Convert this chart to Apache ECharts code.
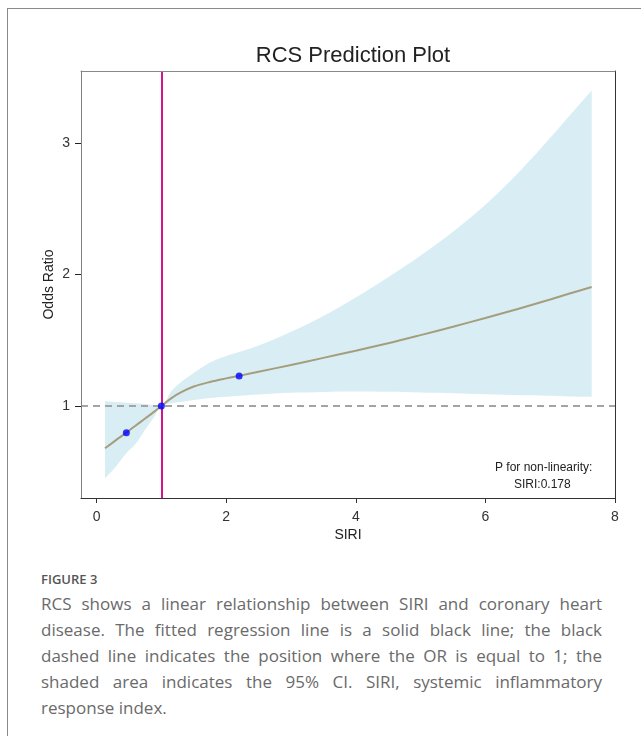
<!DOCTYPE html>
<html>
<head>
	<meta charset="utf-8" />
	<title>RCS Prediction Plot</title>
	<script type="text/javascript" src="https://cdn.jsdelivr.net/npm/echarts@6/dist/echarts.min.js"></script>
	<style type="text/css">
		html, body{
			margin: 0;
			padding: 0;
			width: 641px;
			height: 736px;
			overflow: hidden;
			background: #fff;
		}
		#frame{
			position: absolute;
			left: 7px;
			top: 8px;
			width: 700px;
			height: 800px;
			border: 1px solid #8a8a8a;
		}
		#container{
			position: absolute;
			left: 0;
			top: 0;
			width: 641px;
			height: 560px;
		}
		#caption{
			position: absolute;
			left: 41px;
			top: 570px;
			width: 561px;
			font-family: "Open Sans", sans-serif;
			color: #6a6a6a;
		}
		#caption .fig{
			font-size: 13px;
			font-weight: 600;
			color: #555;
			line-height: 18px;
			margin-bottom: 3px;
		}
		#caption .ln{
			font-size: 17px;
			line-height: 26px;
			text-align: justify;
			text-align-last: justify;
			white-space: nowrap;
		}
		#caption .ln.last{
			text-align-last: left;
		}
	</style>
</head>
<body>
<div id="frame"></div>
<div id="container"></div>
<div id="caption">
	<div class="fig">FIGURE 3</div>
	<div class="ln">RCS shows a linear relationship between SIRI and coronary heart</div>
	<div class="ln">disease. The fitted regression line is a solid black line; the black</div>
	<div class="ln">dashed line indicates the position where the OR is equal to 1; the</div>
	<div class="ln">shaded area indicates the 95% CI. SIRI, systemic inflammatory</div>
	<div class="ln last">response index.</div>
</div>

<script type="text/javascript">
	// SIRI values along the fitted curve
	var siri  = [0.13, 0.3, 0.46, 0.6, 0.75, 0.88, 1.0, 1.15, 1.3, 1.5, 1.75, 2.0, 2.2, 2.5, 3.0, 3.5, 4.0, 4.5, 5.0, 5.5, 6.0, 6.5, 7.0, 7.3, 7.64];
	// odds ratio (fitted line)
	var orFit = [0.678, 0.74, 0.797, 0.85, 0.905, 0.953, 1.0, 1.058, 1.103, 1.148, 1.183, 1.21, 1.229, 1.26, 1.312, 1.366, 1.42, 1.477, 1.539, 1.603, 1.669, 1.738, 1.81, 1.855, 1.905];
	// 95% CI
	var ciLow = [0.45, 0.54, 0.64, 0.71, 0.82, 0.91, 1.0, 1.02, 1.03, 1.045, 1.06, 1.07, 1.078, 1.088, 1.10, 1.107, 1.11, 1.108, 1.103, 1.097, 1.09, 1.083, 1.077, 1.073, 1.07];
	var ciUp  = [1.038, 1.03, 1.025, 1.02, 1.015, 1.008, 1.0, 1.11, 1.18, 1.25, 1.33, 1.38, 1.41, 1.46, 1.565, 1.685, 1.825, 1.98, 2.145, 2.325, 2.53, 2.77, 3.04, 3.21, 3.40];
	// highlighted points (blue)
	var knots = [[0.46, 0.797], [1.0, 1.0], [2.2, 1.228]];

	var xTicks = [0, 2, 4, 6, 8];
	var yTicks = [1, 2, 3];
	var refX = 1;    // vertical reference
	var refY = 1;    // OR = 1

	// rows are [value, siri] so the value column is the one that gets stacked
	var lowRows = [], bandRows = [], fitRows = [];
	for (var i = 0; i < siri.length; i++) {
		lowRows.push([ciLow[i], siri[i]]);
		bandRows.push([+(ciUp[i] - ciLow[i]).toFixed(4), siri[i]]);
		fitRows.push([orFit[i], siri[i]]);
	}

	var FONT = '"Liberation Sans", Arial, sans-serif';
	var SMOOTH = 0.35;

	var chart = echarts.init(document.getElementById('container'));

	var options = {
		animation: false,
		title: {
			text: 'RCS Prediction Plot',
			left: 348,
			textAlign: 'center',
			top: 40,
			textStyle: {
				fontFamily: FONT,
				fontSize: 22,
				fontWeight: 'normal',
				color: '#222'
			}
		},
		grid: {
			left: 81,
			top: 71,
			right: 26,
			bottom: 62
		},
		xAxis: [
			{
				type: 'value',
				min: -0.24,
				max: 8.0,
				z: 20,
				name: 'SIRI',
				nameLocation: 'middle',
				nameGap: 30,
				nameMoveOverlap: false,
				nameTextStyle: { fontFamily: FONT, fontSize: 14, color: '#222' },
				axisLine: { show: true, onZero: false, lineStyle: { color: '#333', width: 1 } },
				axisTick: { show: true, length: 5, customValues: xTicks, lineStyle: { color: '#333' } },
				axisLabel: { customValues: xTicks, margin: 12, fontFamily: FONT, fontSize: 14, color: '#333' },
				splitLine: { show: false }
			},
			{
				type: 'value',
				position: 'top',
				min: -0.24,
				max: 8.0,
				z: 20,
				axisLine: { show: true, onZero: false, lineStyle: { color: '#888', width: 1 } },
				axisTick: { show: false },
				axisLabel: { show: false },
				splitLine: { show: false }
			}
		],
		yAxis: [
			{
				type: 'value',
				min: 0.30,
				max: 3.548,
				z: 20,
				name: 'Odds Ratio',
				nameLocation: 'middle',
				nameGap: 25,
				nameMoveOverlap: false,
				nameTextStyle: { fontFamily: FONT, fontSize: 14, color: '#222' },
				axisLine: { show: true, onZero: false, lineStyle: { color: '#7f7f7f', width: 1 } },
				axisTick: { show: true, length: 6, customValues: yTicks, lineStyle: { color: '#222' } },
				axisLabel: { customValues: yTicks, margin: 11, fontFamily: FONT, fontSize: 14, color: '#333' },
				splitLine: { show: false }
			},
			{
				type: 'value',
				position: 'right',
				min: 0.30,
				max: 3.548,
				z: 20,
				axisLine: { show: true, onZero: false, lineStyle: { color: '#333', width: 1 } },
				axisTick: { show: false },
				axisLabel: { show: false },
				splitLine: { show: false }
			}
		],
		graphic: [
			{
				type: 'text',
				left: 495,
				top: 462,
				z: 100,
				style: {
					text: 'P for non-linearity:',
					font: '12px ' + FONT,
					fill: '#222'
				}
			},
			{
				type: 'text',
				left: 514,
				top: 479,
				z: 100,
				style: {
					text: 'SIRI:0.178',
					font: '12px ' + FONT,
					fill: '#222'
				}
			}
		],
		series: [
			{
				name: 'ciLow',
				type: 'line',
				stack: 'ci',
				data: lowRows,
				encode: { x: 1, y: 0 },
				smooth: SMOOTH,
				symbol: 'none',
				lineStyle: { width: 0, opacity: 0 },
				silent: true,
				z: 1
			},
			{
				name: 'ciBand',
				type: 'line',
				stack: 'ci',
				data: bandRows,
				encode: { x: 1, y: 0 },
				smooth: SMOOTH,
				symbol: 'none',
				lineStyle: { width: 0, opacity: 0 },
				areaStyle: { color: '#d9eef4', opacity: 1 },
				silent: true,
				z: 1,
				markLine: {
					silent: true,
					symbol: 'none',
					label: { show: false },
					z: 3,
					data: [
						{ yAxis: refY, lineStyle: { color: '#a4a4a4', width: 2, type: [7, 5] } },
						{ xAxis: refX, lineStyle: { color: '#d1168d', width: 2, type: 'solid' } }
					]
				}
			},
			{
				name: 'fit',
				type: 'line',
				data: fitRows,
				encode: { x: 1, y: 0 },
				smooth: SMOOTH,
				symbol: 'none',
				lineStyle: { color: '#a59e7e', width: 2 },
				z: 6
			},
			{
				name: 'knots',
				type: 'scatter',
				data: knots,
				symbolSize: 7,
				itemStyle: { color: '#0000ff' },
				z: 10
			}
		]
	};

	chart.setOption(options);
</script>
</body>
</html>
